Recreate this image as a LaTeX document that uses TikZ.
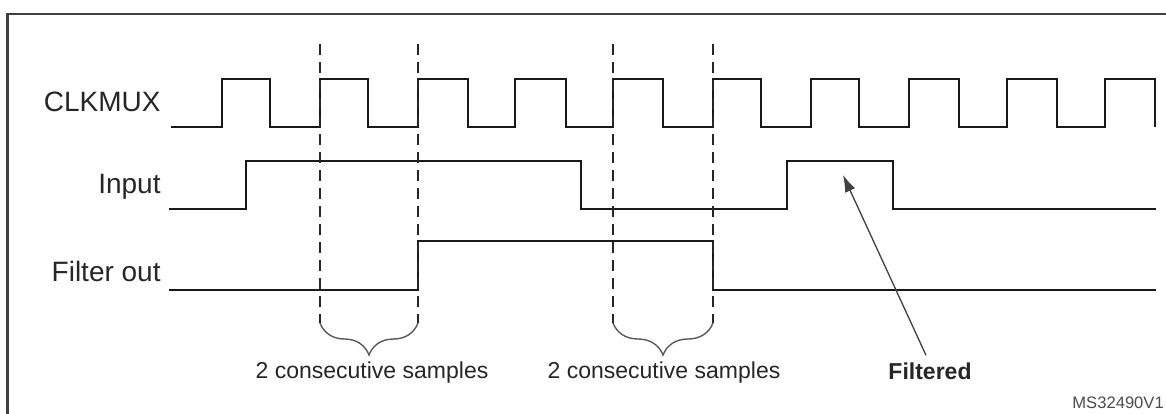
\documentclass[tikz,border=0pt]{standalone}
\usepackage{fontspec}
\setmainfont{Liberation Sans}
\usepackage{tikz}
\usetikzlibrary{arrows.meta, decorations.pathreplacing}
\tikzstyle{signal} = [line width=1pt, draw=black!90]
\tikzstyle{sample} = [line width=0.75pt, dash pattern=on 5.5pt off 3.5pt, draw=black!85]
\tikzstyle{bracket} = [line width=0.7pt, draw=black!65, decorate, decoration={brace, amplitude=16pt}]
\tikzstyle{arrow} = [line width=0.65pt, draw=black!75, -{Latex[length=8.5pt, width=5.5pt]}]
\tikzstyle{signame} = [anchor=base east, inner sep=0pt, text=black!85, font=\fontsize{14}{16}\selectfont]
\tikzstyle{notelabel} = [anchor=base, text=black!85, font=\fontsize{11.5}{13}\selectfont]

\begin{document}
\begin{tikzpicture}[x=0.5pt, y=0.5pt]
\useasboundingbox (0,0) rectangle (1166,413);

% Frame
\draw[line width=1.1pt, draw=black!75] (7.5,399) rectangle (1190,-20);

% Signal Names
\node (clkmux) [signame] at (161,301) {CLKMUX};
\node (input) [signame] at (161,220) {Input};
\node (filterout) [signame] at (161,132) {Filter out};

% Waveforms
\draw[signal] (171,286) \foreach \r/\f in {222/270, 320/368, 418/468, 515/566, 613/663, 713/761, 811/859, 909/959, 1007/1057, 1105/1155} { -- (\r,286) -- (\r,334) -- (\f,334) -- (\f,286) };
\draw[signal] (169,204) -- (246,204) -- (246,252) -- (581,252) -- (581,204) -- (787,204) -- (787,252) -- (893,252) -- (893,204) -- (1156,204);
\draw[signal] (169,123) -- (418,123) -- (418,172) -- (713,172) -- (713,123) -- (1156,123);

% Sample Windows
\foreach \x in {320, 418, 613, 713}
  \draw[sample] (\x,369) -- (\x,90);
\draw[bracket] (418,90) -- (320,90);
\draw[bracket] (713,90) -- (613,90);

% Labels
\node (samplesA) [notelabel] at (372,35) {2 consecutive samples};
\node (samplesB) [notelabel] at (664,35) {2 consecutive samples};
\node (filtered) [notelabel, font=\fontsize{11.5}{13}\selectfont\bfseries] at (930,34) {Filtered};
\node (ref) [anchor=base west, inner sep=0pt, text=black!70, font=\fontsize{8.3}{10}\selectfont] at (1072,5) {MS32490V1};

% Arrow
\coordinate (glitch) at (843,238);
\draw[arrow] ([xshift=-2pt]filtered.north) -- (glitch);

\end{tikzpicture}
\end{document}
